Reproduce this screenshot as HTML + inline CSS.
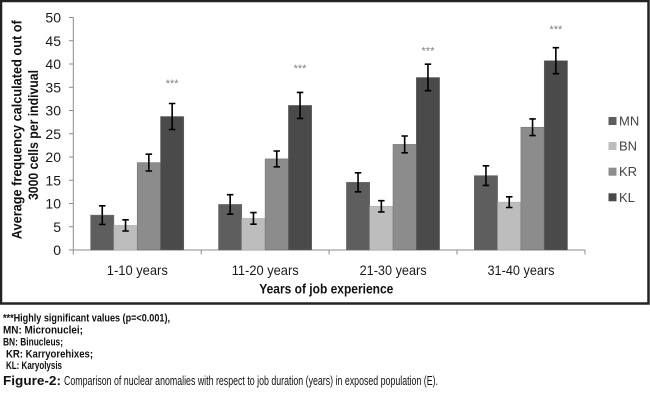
<!DOCTYPE html>
<html><head><meta charset="utf-8"><style>
html,body{margin:0;padding:0;background:#fff;}
svg{display:block;}
</style></head><body>
<svg width="650" height="408" viewBox="0 0 650 408" xmlns="http://www.w3.org/2000/svg" font-family="'Liberation Sans', sans-serif">
<rect x="0" y="0" width="650" height="408" fill="#fff"/>
<rect x="1" y="1" width="647.5" height="302.5" fill="none" stroke="#222" stroke-width="2.5"/>

<!-- axes -->
<g stroke="#8c8c8c" stroke-width="1">
<line x1="73.3" y1="17.5" x2="73.3" y2="250"/>
<line x1="73.3" y1="250" x2="585" y2="250"/>
<line x1="69" y1="250" x2="73.3" y2="250"/>
<line x1="69" y1="226.75" x2="73.3" y2="226.75"/>
<line x1="69" y1="203.5" x2="73.3" y2="203.5"/>
<line x1="69" y1="180.25" x2="73.3" y2="180.25"/>
<line x1="69" y1="157" x2="73.3" y2="157"/>
<line x1="69" y1="133.75" x2="73.3" y2="133.75"/>
<line x1="69" y1="110.5" x2="73.3" y2="110.5"/>
<line x1="69" y1="87.25" x2="73.3" y2="87.25"/>
<line x1="69" y1="64" x2="73.3" y2="64"/>
<line x1="69" y1="40.75" x2="73.3" y2="40.75"/>
<line x1="69" y1="17.5" x2="73.3" y2="17.5"/>
<line x1="73.3" y1="250" x2="73.3" y2="254.5"/>
<line x1="201.2" y1="250" x2="201.2" y2="254.5"/>
<line x1="329.1" y1="250" x2="329.1" y2="254.5"/>
<line x1="457" y1="250" x2="457" y2="254.5"/>
<line x1="585" y1="250" x2="585" y2="254.5"/>
</g>

<g font-size="14" fill="#1a1a1a" text-anchor="end" dominant-baseline="central">
<text x="61" y="250">0</text>
<text x="61" y="226.75">5</text>
<text x="61" y="203.5">10</text>
<text x="61" y="180.25">15</text>
<text x="61" y="157">20</text>
<text x="61" y="133.75">25</text>
<text x="61" y="110.5">30</text>
<text x="61" y="87.25">35</text>
<text x="61" y="64">40</text>
<text x="61" y="40.75">45</text>
<text x="61" y="17.5">50</text>
</g>

<!-- bars -->
<g stroke="#6a6a6a" stroke-width="0.5">
<rect x="90.6" y="215.1" width="23.3" height="34.9" fill="#5e5e5e"/>
<rect x="113.9" y="225.4" width="23.3" height="24.6" fill="#bdbdbd" stroke="#aaa"/>
<rect x="137.2" y="162.6" width="23.3" height="87.4" fill="#8c8c8c"/>
<rect x="160.5" y="116.5" width="23.3" height="133.5" fill="#4a4a4a"/>

<rect x="218.5" y="204.4" width="23.3" height="45.6" fill="#5e5e5e"/>
<rect x="241.8" y="218.4" width="23.3" height="31.6" fill="#bdbdbd" stroke="#aaa"/>
<rect x="265.1" y="158.9" width="23.3" height="91.1" fill="#8c8c8c"/>
<rect x="288.4" y="105.4" width="23.3" height="144.6" fill="#4a4a4a"/>

<rect x="346.4" y="182.3" width="23.3" height="67.7" fill="#5e5e5e"/>
<rect x="369.7" y="206.3" width="23.3" height="43.7" fill="#bdbdbd" stroke="#aaa"/>
<rect x="393.0" y="144.4" width="23.3" height="105.6" fill="#8c8c8c"/>
<rect x="416.3" y="77.5" width="23.3" height="172.5" fill="#4a4a4a"/>

<rect x="474.3" y="175.6" width="23.3" height="74.4" fill="#5e5e5e"/>
<rect x="497.6" y="202.1" width="23.3" height="47.9" fill="#bdbdbd" stroke="#aaa"/>
<rect x="520.9" y="127.2" width="23.3" height="122.8" fill="#8c8c8c"/>
<rect x="544.2" y="60.7" width="23.3" height="189.3" fill="#4a4a4a"/>
</g>

<!-- error bars -->
<g stroke="#000" stroke-width="1.6" fill="none">
<path d="M102.25 205.8V224.4M99 205.8h6.5M99 224.4h6.5"/>
<path d="M125.55 219.8V231.0M122.3 219.8h6.5M122.3 231.0h6.5"/>
<path d="M148.85 154.2V171.0M145.6 154.2h6.5M145.6 171.0h6.5"/>
<path d="M172.15 103.5V129.5M168.9 103.5h6.5M168.9 129.5h6.5"/>

<path d="M230.15 194.7V214.2M226.9 194.7h6.5M226.9 214.2h6.5"/>
<path d="M253.45 212.6V224.2M250.2 212.6h6.5M250.2 224.2h6.5"/>
<path d="M276.75 151.0V166.8M273.5 151.0h6.5M273.5 166.8h6.5"/>
<path d="M300.05 92.4V118.4M296.8 92.4h6.5M296.8 118.4h6.5"/>

<path d="M358.05 172.8V191.8M354.8 172.8h6.5M354.8 191.8h6.5"/>
<path d="M381.35 200.7V211.9M378.1 200.7h6.5M378.1 211.9h6.5"/>
<path d="M404.65 136.0V152.8M401.4 136.0h6.5M401.4 152.8h6.5"/>
<path d="M427.95 64.2V90.7M424.7 64.2h6.5M424.7 90.7h6.5"/>

<path d="M485.95 165.8V185.4M482.7 165.8h6.5M482.7 185.4h6.5"/>
<path d="M509.25 196.8V207.5M506 196.8h6.5M506 207.5h6.5"/>
<path d="M532.55 118.9V135.6M529.3 118.9h6.5M529.3 135.6h6.5"/>
<path d="M555.85 47.7V73.7M552.6 47.7h6.5M552.6 73.7h6.5"/>
</g>

<!-- significance -->
<g font-size="11" fill="#808080" text-anchor="middle" dominant-baseline="central">
<text x="172.15" y="84">***</text>
<text x="300.05" y="69">***</text>
<text x="427.95" y="51.5">***</text>
<text x="555.85" y="30">***</text>
</g>

<!-- category labels -->
<g font-size="14" fill="#1a1a1a" text-anchor="middle" dominant-baseline="central">
<text x="137.3" y="270" textLength="61" lengthAdjust="spacingAndGlyphs">1-10 years</text>
<text x="265.2" y="270" textLength="67" lengthAdjust="spacingAndGlyphs">11-20 years</text>
<text x="393.1" y="270" textLength="67" lengthAdjust="spacingAndGlyphs">21-30 years</text>
<text x="521" y="270" textLength="67" lengthAdjust="spacingAndGlyphs">31-40 years</text>
</g>
<text x="326.3" y="288.5" font-size="14" font-weight="bold" fill="#111" text-anchor="middle" dominant-baseline="central" textLength="134" lengthAdjust="spacingAndGlyphs">Years of job experience</text>

<!-- y title -->
<g font-size="14" font-weight="bold" fill="#111" text-anchor="middle" dominant-baseline="central">
<text transform="translate(16.7,129.7) rotate(-90)" textLength="219" lengthAdjust="spacingAndGlyphs">Average frequency calculated out of</text>
<text transform="translate(33,135) rotate(-90)" textLength="130" lengthAdjust="spacingAndGlyphs">3000 cells per indivual</text>
</g>

<!-- legend -->
<rect x="608.5" y="117" width="8" height="8" fill="#5e5e5e"/>
<rect x="608.5" y="142" width="8" height="8" fill="#bdbdbd"/>
<rect x="608.5" y="167.7" width="8" height="8" fill="#8c8c8c"/>
<rect x="608.5" y="193.3" width="8" height="8" fill="#4a4a4a"/>
<g font-size="13" fill="#444" dominant-baseline="central">
<text x="619" y="121">MN</text>
<text x="619" y="146">BN</text>
<text x="619" y="171.7">KR</text>
<text x="619" y="197.3">KL</text>
</g>

<!-- footnotes -->
<g font-size="11" font-weight="bold" fill="#111" dominant-baseline="central">
<text x="3" y="318.3" textLength="167" lengthAdjust="spacingAndGlyphs">***Highly significant values (p=&lt;0.001),</text>
<text x="3" y="330.5" textLength="80" lengthAdjust="spacingAndGlyphs">MN: Micronuclei;</text>
<text x="3" y="342.7" textLength="60" lengthAdjust="spacingAndGlyphs">BN: Binucleus;</text>
<text x="6" y="354.5" textLength="87" lengthAdjust="spacingAndGlyphs">KR: Karryorehixes;</text>
<text x="6" y="366" textLength="56" lengthAdjust="spacingAndGlyphs">KL: Karyolysis</text>
</g>
<g font-size="12.5" fill="#111" dominant-baseline="central">
<text x="3" y="381" font-weight="bold" textLength="58" lengthAdjust="spacingAndGlyphs">Figure-2:</text>
<text x="64" y="381" textLength="374" lengthAdjust="spacingAndGlyphs">Comparison of nuclear anomalies with respect to job duration (years) in exposed population (E).</text>
</g>
</svg>
</body></html>
